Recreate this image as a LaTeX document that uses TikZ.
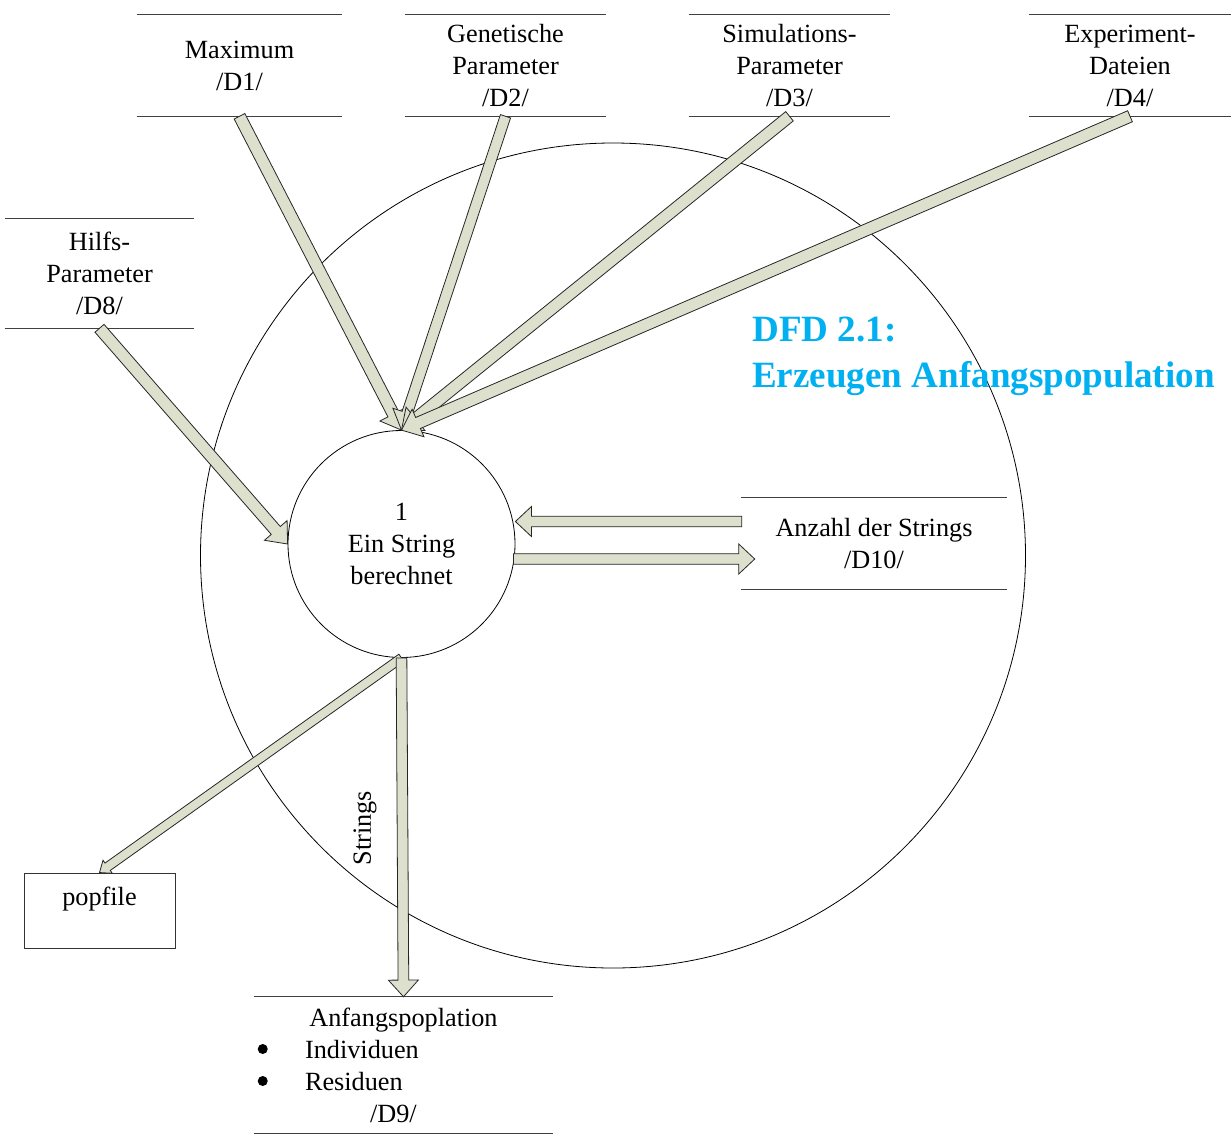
\documentclass[tikz,border=0pt]{standalone}
\usepackage{fontspec}
\setmainfont{Liberation Serif}
\usetikzlibrary{calc,positioning}
\definecolor{flow green}{RGB}{221,224,204}
\definecolor{title blue}{RGB}{0,176,240}

% block arrow: from, to, shaft half width, head half width, head length
\newcommand{\flow}[5]{%
  \coordinate (fa) at (#1);
  \coordinate (fb) at (#2);
  \coordinate (fn) at ($(fb)!#5!(fa)$);
  \filldraw[flow]
    ($(fa)!#3!90:(fb)$) -- ($(fn)!#3!90:(fb)$) -- ($(fn)!#4!90:(fb)$)
    -- (fb)
    -- ($(fn)!#4!-90:(fb)$) -- ($(fn)!#3!-90:(fb)$) -- ($(fa)!#3!-90:(fb)$)
    -- cycle;
}

\tikzset{
  flow/.style = {fill=flow green, draw=black!85, line width=0.6pt, line join=miter},
  store/.style = {inner sep=0pt, align=center},
  storeline/.style = {draw=black!75, line width=0.9pt},
  proc/.style = {circle, draw, line width=0.6pt, minimum size=170.25pt, inner sep=0pt, align=center},
  filebox/.style = {draw=black!80, line width=0.7pt, minimum width=113.25pt, minimum height=56.25pt, inner sep=0pt},
  title/.style = {text=title blue, font=\bfseries\fontsize{27.8pt}{34.5pt}\selectfont, align=left, inner sep=0pt}
}

\begin{document}
\begin{tikzpicture}[x=0.75pt, y=-0.75pt, font=\fontsize{19.7pt}{24pt}\selectfont]
    \useasboundingbox (0,0) rectangle (1231,1135);
    % context circle
    \node[draw, circle, line width=0.6pt, minimum size=618.75pt] (frame) at (613,555.5) {};
    \node[title, anchor=west] (title) at (752,356) {DFD 2.1:\\Erzeugen Anfangspopulation};
    % process
    \node[proc] (proc) at (401.5,544) {1\\Ein String\\berechnet};
    % stores
    \node[store, minimum width=153.75pt, minimum height=75.75pt] (d1) at (239.5,65.5) {Maximum\\/D1/};
    \node[store, minimum width=150.75pt, minimum height=75.75pt] (d2) at (505.5,65.5) {Genetische\\Parameter\\/D2/};
    \node[store, minimum width=150.75pt, minimum height=75.75pt] (d3) at (789.5,65.5) {Simulations-\\Parameter\\/D3/};
    \node[store, minimum width=151.5pt, minimum height=75.75pt] (d4) at (1130,65.5) {Experiment-\\Dateien\\/D4/};
    \node[store, minimum width=141.75pt, minimum height=81.75pt] (d8) at (99.5,273.5) {Hilfs-\\Parameter\\/D8/};
    \node[store, minimum width=199.5pt, minimum height=68.25pt] (d10) at (874,543.5) {Anzahl der Strings\\/D10/};
    \node[store, align=left, text width=224.25pt, minimum height=102pt] (d9) at (403.5,1065)
      {\makebox[224.25pt][c]{Anfangspoplation}\\
       \hspace*{38.25pt}Individuen\\
       \hspace*{38.25pt}Residuen\\
       \hspace*{87pt}/D9/};
    \foreach \s in {d1,d2,d3,d4,d8,d10,d9}
      \draw[storeline] (\s.north west) -- (\s.north east) (\s.south west) -- (\s.south east);
    % bullets
    \foreach \dy in {-16,16}
      \fill ($(d9.west)+(9,\dy)$) circle (5);
    % file
    \node[filebox, label={[anchor=north, inner sep=11pt]north:popfile}] (pop) at (99.5,910.5) {};
    % flows in
    \flow{d1.south}{proc.north}{4.5pt}{11.25pt}{13.5pt}
    \flow{d2.south}{proc.north}{4pt}{11.25pt}{13.5pt}
    \flow{d3.south}{proc.north}{4.5pt}{11.25pt}{13.5pt}
    \flow{d4.south}{proc.north}{4.5pt}{11.25pt}{13.5pt}
    \flow{d8.south}{proc.west}{4.5pt}{11.25pt}{13.5pt}
    % count of strings
    \coordinate (d10in) at ($(d10.west)+(1,-22)$);
    \coordinate (d10out) at ($(d10.west)+(14,15.5)$);
    \coordinate (procin) at (d10in -| proc.east);
    \coordinate (procout) at ($(d10out -| proc.east)+(-2,0)$);
    \flow{d10in}{procin}{4pt}{11.25pt}{12pt}
    \flow{procout}{d10out}{4pt}{11.25pt}{12pt}
    % flows out
    \flow{proc.south}{pop.north}{3.4pt}{6pt}{7.5pt}
    \flow{proc.south}{d9.north}{4pt}{11.25pt}{12.5pt}
    \node[rotate=90] (strings) at (365,828) {Strings};
\end{tikzpicture}
\end{document}
